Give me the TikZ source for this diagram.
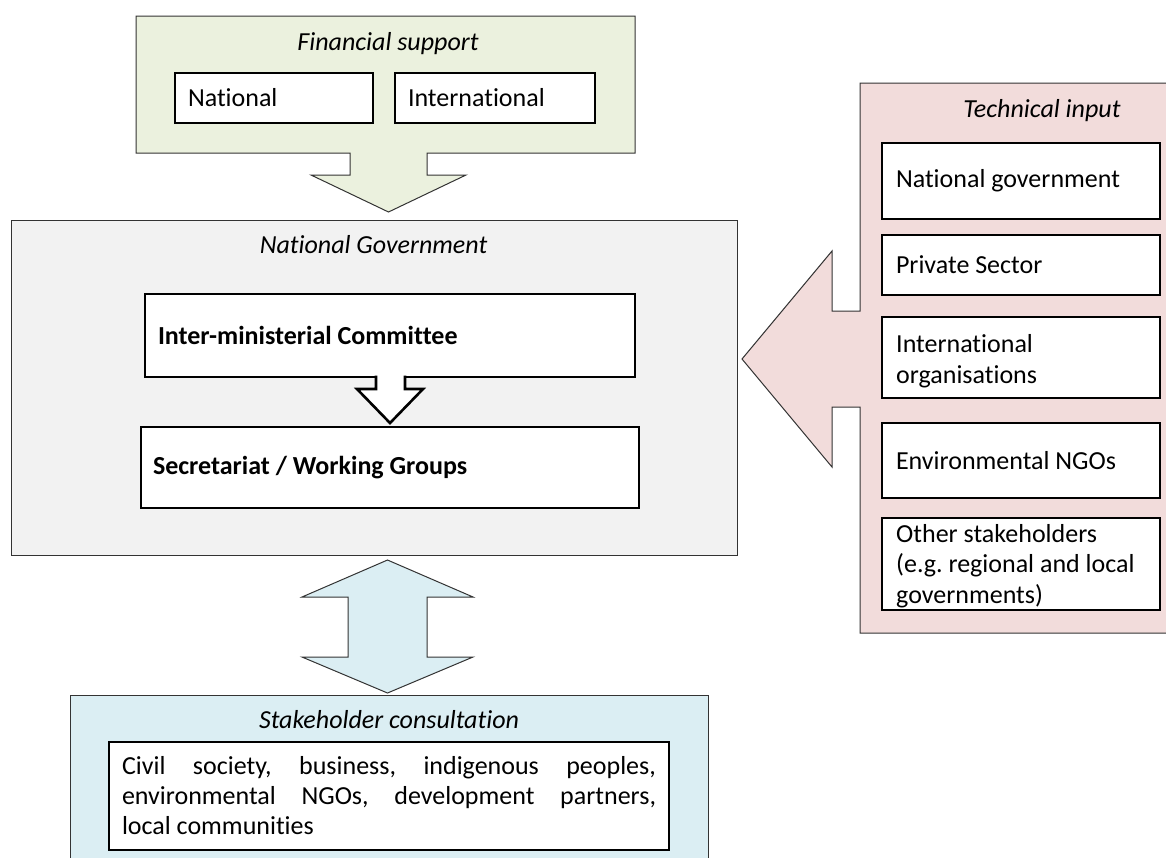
\documentclass[tikz,border=0pt]{standalone}
\usepackage{fontspec}
\setmainfont{Carlito}[Ligatures=NoCommon]
\definecolor{finfill}{HTML}{EBF1DE}
\definecolor{govfill}{HTML}{F2F2F2}
\definecolor{techfill}{HTML}{F2DCDB}
\definecolor{stakefill}{HTML}{DBEEF3}
\definecolor{edgegrey}{HTML}{333333}
\begin{document}
\begin{tikzpicture}[x=1pt,y=-1pt,
  every node/.style={font=\fontsize{26}{31}\selectfont},
  outline/.style={draw=edgegrey, line width=1pt, line join=miter},
  title/.style={anchor=base, font=\fontsize{26}{31}\selectfont\itshape},
  plaintext/.style={align=left, inner sep=0pt,
    execute at begin node={\spaceskip=0pt\xspaceskip=0pt\frenchspacing
      \hyphenpenalty=10000\relax}},
  inbox/.style={plaintext, draw=black, line width=2.6pt, fill=white,
    inner xsep=13pt},
  hollow/.style={draw=black, line width=2.6pt, fill=white, line join=miter}
]
\useasboundingbox (0,0) rectangle (1166,857);
\clip (0,0) rectangle (1166,857);

% Financial support panel with its down arrow
\path[outline, fill=finfill] (136,16) -- (635,16) -- (635,153) -- (427,153)
  -- (427,175) -- (466,175) -- (388.5,212) -- (311,175) -- (350,175)
  -- (350,153) -- (136,153) -- cycle;
\node[title] (fintitle) at (388,50) {Financial support};
\node[inbox, minimum width=198pt, minimum height=50pt, text width=172pt]
  (finnat) at (274,98) {National};
\node[inbox, minimum width=200pt, minimum height=50pt, text width=174pt]
  (finint) at (495,98) {International};

% National Government panel
\node[outline, fill=govfill, minimum width=726pt, minimum height=335pt,
  inner sep=0pt] (gov) at (374,387.5) {};
\node[title] (govtitle) at (373.5,253) {National Government};
\node[inbox, minimum width=490pt, minimum height=83pt, text width=464pt,
  font=\fontsize{26}{31}\selectfont\bfseries] (imc) at (390,335.5)
  {Inter-ministerial Committee};
\node[inbox, minimum width=498pt, minimum height=81pt, text width=474pt,
  inner xsep=12pt, font=\fontsize{26}{31}\selectfont\bfseries] (sec)
  at (390,467.5) {Secretariat / Working Groups};
% hollow arrow from the committee to the secretariat
\path[hollow] (376,375.6) -- (376,389) -- (357,389) -- (390,423)
  -- (423,389) -- (405,389) -- (405,375.6);

% Technical input panel with its left arrow
\path[outline, fill=techfill] (860,83) -- (1190,83) -- (1190,633) -- (860,633)
  -- (860,407) -- (832,407) -- (832,467) -- (742,359) -- (832,251)
  -- (832,311) -- (860,311) -- cycle;
\node[title] (techtitle) at (1042,117) {Technical input};
\tikzset{techbox/.style={inbox, inner xsep=14pt, minimum width=278pt,
  text width=250pt}}
\node[techbox, minimum height=76pt] (tgov) at (1021,181) {National government};
\node[techbox, minimum height=60pt] (tpriv) at (1021,265) {Private Sector};
\node[techbox, minimum height=81pt] (tintl) at (1021,357.5) {};
\node[plaintext, anchor=base west, text width=250pt] (tintltext)
  at (896,352) {International\\organisations};
\node[techbox, minimum height=75pt] (tngo) at (1021,460.5) {Environmental NGOs};
\node[techbox, minimum height=92pt] (tother) at (1021,564) {};
\node[plaintext, anchor=base west, text width=250pt,
  font=\fontsize{26}{30.5}\selectfont] (tothertext) at (896,542)
  {Other stakeholders\\(e.g. regional and local\\governments)};

% two-way arrow between government and stakeholders
\path[outline, fill=stakefill] (387.5,560) -- (473,597) -- (427,597)
  -- (427,657) -- (473,657) -- (387.5,693) -- (302,657) -- (348,657)
  -- (348,597) -- (302,597) -- cycle;

% Stakeholder consultation panel
\path[outline, fill=stakefill] (70,870) -- (70,695) -- (708,695) -- (708,870);
\node[title] (staketitle) at (389,728) {Stakeholder consultation};
\node[inbox, minimum width=560pt, minimum height=108pt, text width=534pt,
  font=\fontsize{26}{30}\selectfont] (stakelist) at (389,796)
  {\makebox[534pt][s]{Civil society, business, indigenous peoples,}\\
   \makebox[534pt][s]{environmental NGOs, development partners,}\\
   local communities};
\end{tikzpicture}
\end{document}
